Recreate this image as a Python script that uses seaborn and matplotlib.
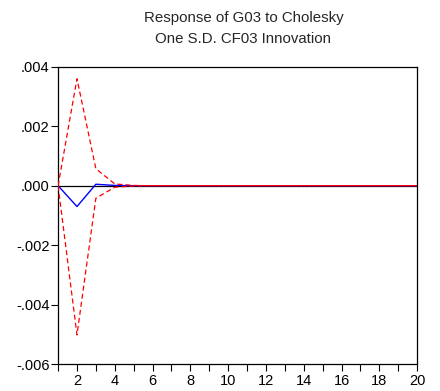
import matplotlib
matplotlib.use("Agg")
import matplotlib.pyplot as plt
import seaborn as sns
import pandas as pd
from matplotlib.ticker import FixedLocator, FuncFormatter

periods = list(range(1, 21))
response = [0.0, -0.0007, 0.00005, 0.00001] + [0.0] * 16
upper = [0.0, 0.0036, 0.00057, 0.00006, 0.00001] + [0.0] * 15
lower = [0.0, -0.00502, -0.00042, -0.00005, -0.00001] + [0.0] * 15

sns.set_theme(style="white")
plt.rcParams['font.family'] = ['Liberation Sans', 'DejaVu Sans']

df = pd.DataFrame({"period": periods, "response": response, "upper": upper, "lower": lower})

fig = plt.figure(figsize=(4.4, 3.91), dpi=100)
ax = fig.add_axes([0.132, 0.069, 0.816, 0.760])

ax.axhline(0, color="black", lw=0.9, zorder=1)
sns.lineplot(data=df, x="period", y="response", ax=ax, color="blue", lw=1.0, zorder=2)
sns.lineplot(data=df, x="period", y="upper", ax=ax, color="red", lw=0.9, linestyle=(0, (4, 2.5)), zorder=3)
sns.lineplot(data=df, x="period", y="lower", ax=ax, color="red", lw=0.9, linestyle=(0, (4, 2.5)), zorder=3)

ax.set_xlim(1, 20)
ax.set_ylim(-0.006, 0.004)
ax.set_xlabel("")
ax.set_ylabel("")

ax.xaxis.set_major_locator(FixedLocator(list(range(2, 21, 2))))
ax.xaxis.set_minor_locator(FixedLocator(list(range(1, 21, 2))))
ax.yaxis.set_major_locator(FixedLocator([-0.006, -0.004, -0.002, 0.0, 0.002, 0.004]))

def yfmt(v, pos):
    s = f"{v:.3f}"
    if s.startswith("-0"):
        return "-" + s[2:]
    if s.startswith("0"):
        return s[1:]
    return s
ax.yaxis.set_major_formatter(FuncFormatter(yfmt))

ax.tick_params(axis="both", which="both", direction="out", color="black", width=0.8,
               labelsize=10.5, labelcolor="black", bottom=True, left=True)
ax.tick_params(axis="x", which="major", length=5, pad=2)
ax.tick_params(axis="x", which="minor", length=5)
ax.tick_params(axis="y", which="major", length=5, pad=1)

for sp in ax.spines.values():
    sp.set_color("black")
    sp.set_linewidth(0.9)
    sp.set_visible(True)

fig.text(0.553, 0.953, "Response of G03 to Cholesky", ha="center", va="center", fontsize=10.8)
fig.text(0.553, 0.900, "One S.D. CF03 Innovation", ha="center", va="center", fontsize=10.8)

fig.savefig("out.png", dpi=100, facecolor="white")
